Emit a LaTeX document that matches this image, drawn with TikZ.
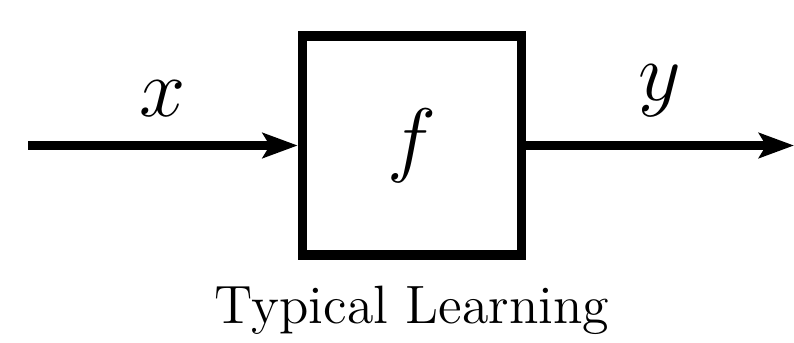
\documentclass[tikz,border=0pt]{standalone}
\usetikzlibrary{arrows.meta,positioning}
\tikzset{
  block/.style={draw=black,line width=2.4pt,minimum size=54.75pt,inner sep=0pt,
                font=\fontsize{20}{24}\selectfont},
  signal/.style={-{Stealth[length=8.75pt,width=6.25pt,inset=1.8pt]},line width=2.4pt,draw=black},
  sig/.style={font=\fontsize{20}{24}\selectfont},
  blocktitle/.style={font=\fontsize{13.5}{16}\selectfont}
}
\begin{document}
\begin{tikzpicture}[x=0.25pt,y=-0.25pt]
\useasboundingbox (0,0) rectangle (794,343);
\node[block] (f) at (412,145.5) {$f$};
\coordinate (in) at (28,145.5);
\coordinate (out) at (794,145.5);
\draw[signal] (in) -- node[above=2.75pt,sig] (xlab) {$x$} (f);
\draw[signal] (f) -- node[above=2.75pt,sig] (ylab) {$y$} (out);
\node[blocktitle,below=3pt of f] (title) {Typical Learning};
\end{tikzpicture}
\end{document}
